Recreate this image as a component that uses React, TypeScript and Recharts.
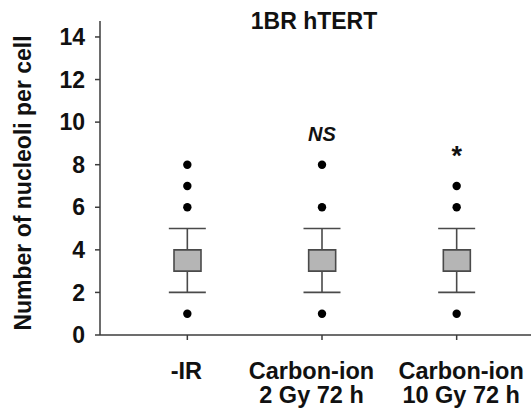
import React from 'react';
import { ComposedChart, Bar, Scatter, ErrorBar, XAxis, YAxis } from 'recharts';

const categories = ['-IR', 'Carbon-ion 2 Gy 72 h', 'Carbon-ion 10 Gy 72 h'];
const tickLine1 = ['-IR', 'Carbon-ion', 'Carbon-ion'];
const tickLine2 = ['', '2 Gy 72 h', '10 Gy 72 h'];
const q1 = [3, 3, 3];
const q3 = [4, 4, 4];
const whiskerLow = [2, 2, 2];
const whiskerHigh = [5, 5, 5];
const outliers = [[8, 7, 6, 1], [8, 6, 1], [7, 6, 1]];
const sigText = ['', 'NS', '*'];
const sigValue: (number | null)[] = [null, 9.1, 8.0];
const yTicks = [0, 2, 4, 6, 8, 10, 12, 14];

// layout: horizontal nudge of each category label relative to its tick (px)
const LABEL_SHIFT = [-1, -10.5, 4.5];

const FONT = '"Liberation Sans", Arial, Helvetica, sans-serif';
const TEXT = '#111';
const AXIS = '#3c3c3c';

const data = categories.map((name, i) => {
  const mid = (whiskerLow[i] + whiskerHigh[i]) / 2;
  const row: any = {
    name,
    base: q1[i],
    iqr: q3[i] - q1[i],
    mid,
    whisker: [mid - whiskerLow[i], whiskerHigh[i] - mid],
    sig: sigValue[i],
    sigLabel: sigText[i],
  };
  for (let k = 0; k < 4; k++) row['o' + k] = outliers[i][k] ?? null;
  return row;
});

const XTick = (props: any) => {
  const { x, y, payload } = props;
  const i = payload.index;
  const lx = x + (LABEL_SHIFT[i] ?? 0);
  return (
    <g>
      <text x={lx} y={y + 37} textAnchor="middle" fontSize={23.5} fontWeight="bold" fontFamily={FONT} fill={TEXT}>
        {tickLine1[i]}
      </text>
      {tickLine2[i] ? (
        <text x={lx} y={y + 61} textAnchor="middle" fontSize={23.5} fontWeight="bold" fontFamily={FONT} fill={TEXT}>
          {tickLine2[i]}
        </text>
      ) : null}
    </g>
  );
};

const Dot = (props: any) => {
  const { cx, cy } = props;
  if (!Number.isFinite(cx) || !Number.isFinite(cy)) return <g />;
  return <circle cx={cx} cy={cy} r={4.2} fill="#000" />;
};

const Empty = () => <g />;

const SigLabel = (props: any) => {
  const { cx, cy, payload } = props;
  if (!Number.isFinite(cx) || !Number.isFinite(cy) || !payload.sigLabel) return <g />;
  const isStar = payload.sigLabel === '*';
  return (
    <text
      x={cx}
      y={cy}
      textAnchor="middle"
      fontSize={isStar ? 27 : 20}
      fontWeight="bold"
      fontStyle={isStar ? 'normal' : 'italic'}
      fontFamily={FONT}
      fill={TEXT}
    >
      {payload.sigLabel}
    </text>
  );
};

export default function App() {
  return (
    <div style={{ position: 'absolute', left: 0, top: 0, width: 531, height: 414, background: '#fff' }}>
      <ComposedChart width={531} height={414} data={data} margin={{ top: 21, right: 0, bottom: 0, left: 0 }}>
        <XAxis
          dataKey="name"
          type="category"
          height={79}
          padding={{ left: 20, right: 7 }}
          tickSize={5}
          tick={<XTick />}
          axisLine={{ stroke: AXIS, strokeWidth: 1.5 }}
          tickLine={{ stroke: AXIS, strokeWidth: 1.5 }}
          interval={0}
        />
        <YAxis
          type="number"
          width={100}
          domain={[0, 14.75]}
          ticks={yTicks}
          interval={0}
          tickSize={5}
          tickMargin={10}
          axisLine={{ stroke: AXIS, strokeWidth: 1.5 }}
          tickLine={{ stroke: AXIS, strokeWidth: 1.5 }}
          tick={{ fontSize: 23, fontWeight: 'bold', fontFamily: FONT, fill: TEXT }}
        />
        <Scatter dataKey="mid" shape={<Empty />} isAnimationActive={false} zIndex={200}>
          <ErrorBar dataKey="whisker" direction="y" width={18.5} stroke="#4a4a4a" strokeWidth={1.6} zIndex={200} isAnimationActive={false} />
        </Scatter>
        <Bar dataKey="base" stackId="box" fill="transparent" barSize={27} isAnimationActive={false} zIndex={300} />
        <Bar dataKey="iqr" stackId="box" fill="#b5b5b5" stroke="#4a4a4a" strokeWidth={1.6} barSize={27} isAnimationActive={false} zIndex={300} />
        <Scatter dataKey="o0" shape={<Dot />} isAnimationActive={false} />
        <Scatter dataKey="o1" shape={<Dot />} isAnimationActive={false} />
        <Scatter dataKey="o2" shape={<Dot />} isAnimationActive={false} />
        <Scatter dataKey="o3" shape={<Dot />} isAnimationActive={false} />
        <Scatter dataKey="sig" shape={<SigLabel />} isAnimationActive={false} />
      </ComposedChart>
      <svg width={531} height={414} style={{ position: 'absolute', left: 0, top: 0, pointerEvents: 'none' }}>
        <text x={314} y={29} textAnchor="middle" fontSize={23} fontWeight="bold" fontFamily={FONT} fill={TEXT}>
          1BR hTERT
        </text>
        <text
          x={31}
          y={183}
          transform="rotate(-90, 31, 183)"
          textAnchor="middle"
          fontSize={23}
          fontWeight="bold"
          fontFamily={FONT}
          fill={TEXT}
        >
          Number of nucleoli per cell
        </text>
      </svg>
    </div>
  );
}
